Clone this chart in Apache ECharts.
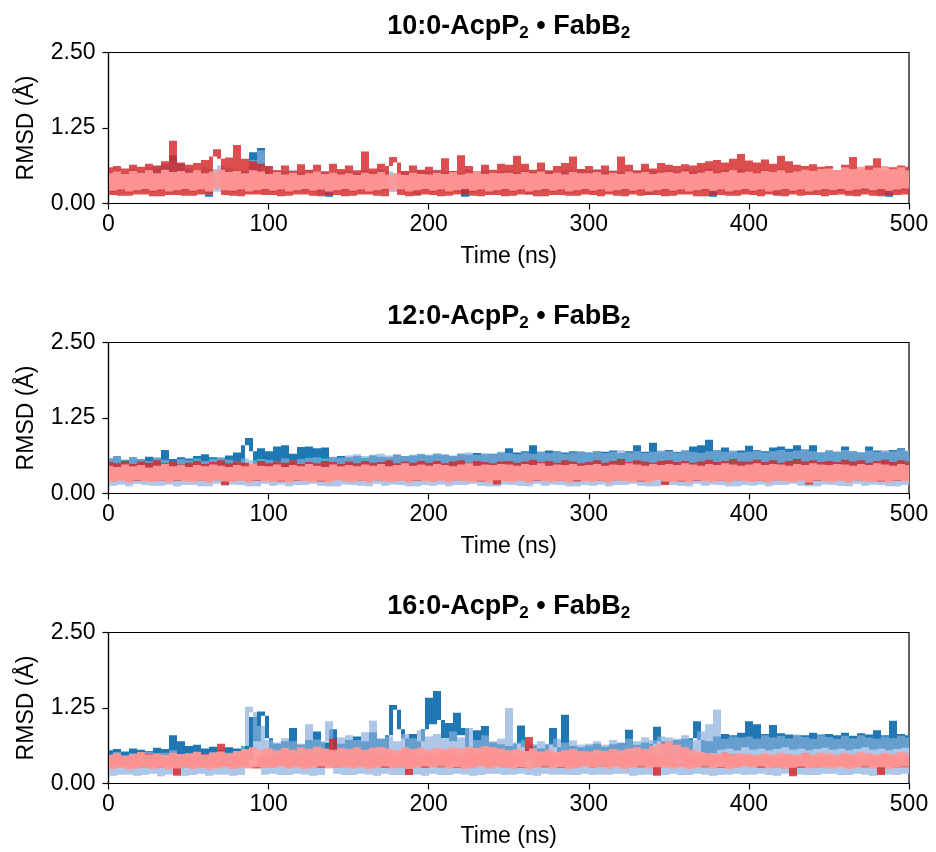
<!DOCTYPE html>
<html>
<head>
<meta charset="utf-8">
<title>RMSD of acyl chains</title>
<script src="https://cdn.jsdelivr.net/npm/echarts@6/dist/echarts.min.js"></script>
<style>
  html, body { margin: 0; padding: 0; background: #fff; }
  #chart { width: 936px; height: 852px; }
</style>
</head>
<body>
<div id="chart"></div>
<script>
// Sampling interval of every trace (ns); sample i sits at i * STEP_NS.
const STEP_NS = 2.5;

// Acyl chain length of each panel, top to bottom.
const chainLabels = ['10:0', '12:0', '16:0'];

// ---- 10:0-AcpP2•FabB2 (RMSD, Å) ----
const t10_blue = [
  .46,.28,.44,.29,.48,.27,.50,.30,.47,.28,.52,.29,.58,.27,.63,.29,.80,.28,.66,.30,
  .55,.29,.49,.27,.51,.11,.47,.28,.53,.30,.50,.29,.48,.27,.52,.28,.85,.40,.92,.60,
  .47,.28,.45,.29,.49,.27,.46,.30,.44,.28,.48,.29,.45,.27,.47,.11,.43,.29,.46,.28,
  .45,.27,.48,.29,.44,.28,.47,.30,.46,.27,.43,.29,.49,.28,.45,.27,.47,.29,.44,.28,
  .46,.29,.44,.27,.48,.28,.45,.30,.47,.11,.43,.29,.46,.27,.48,.28,.44,.29,.47,.27,
  .44,.28,.47,.29,.45,.27,.48,.30,.43,.28,.46,.29,.49,.27,.45,.28,.47,.29,.44,.30,
  .47,.27,.45,.29,.48,.28,.44,.30,.46,.27,.49,.29,.45,.28,.47,.27,.44,.29,.48,.28,
  .45,.29,.48,.27,.44,.28,.47,.30,.45,.29,.49,.11,.46,.27,.44,.28,.48,.29,.45,.27,
  .48,.28,.45,.29,.47,.27,.44,.30,.49,.28,.46,.29,.45,.27,.48,.28,.44,.29,.47,.30,
  .46,.27,.49,.29,.45,.28,.48,.30,.44,.27,.47,.29,.50,.28,.46,.11,.48,.29,.45,.27,
  .47
];
const t10_lightBlue = [
  .52,.19,.55,.21,.50,.18,.57,.20,.54,.22,.60,.19,.62,.21,.66,.18,.70,.20,.64,.22,
  .58,.19,.55,.21,.60,.14,.57,.20,.63,.22,.59,.19,.56,.21,.54,.18,.72,.20,.88,.22,
  .62,.19,.55,.21,.53,.18,.56,.20,.52,.22,.55,.19,.51,.14,.54,.18,.50,.20,.53,.22,
  .54,.19,.51,.21,.55,.18,.52,.20,.56,.22,.53,.19,.50,.21,.54,.18,.52,.14,.55,.22,
  .53,.19,.56,.21,.52,.18,.54,.20,.51,.22,.57,.19,.53,.21,.55,.18,.52,.20,.54,.22,
  .55,.19,.52,.21,.56,.14,.53,.20,.57,.22,.54,.19,.51,.21,.55,.18,.53,.20,.56,.22,
  .54,.19,.57,.21,.53,.18,.55,.20,.52,.22,.56,.19,.54,.21,.58,.14,.55,.20,.53,.22,
  .56,.19,.53,.21,.57,.18,.54,.20,.55,.22,.58,.19,.53,.21,.56,.18,.54,.20,.57,.22,
  .55,.19,.52,.21,.56,.18,.53,.14,.57,.22,.54,.19,.52,.21,.55,.18,.53,.20,.56,.22,
  .54,.19,.51,.21,.55,.18,.52,.20,.53,.22,.56,.19,.50,.14,.54,.18,.51,.20,.53,.22,
  .52
];
const t10_red = [
  .60,.14,.62,.13,.58,.13,.64,.15,.61,.15,.66,.12,.63,.12,.70,.14,1.04,.14,.68,.13,
  .64,.13,.67,.15,.72,.15,.78,.90,.74,.14,.76,.13,.97,.12,.74,.15,.70,.15,.66,.14,
  .62,.14,.55,.12,.63,.13,.54,.15,.65,.15,.56,.13,.64,.12,.53,.14,.66,.14,.57,.12,
  .63,.13,.55,.15,.86,.15,.58,.13,.66,.12,.62,.77,.68,.14,.54,.12,.63,.13,.56,.15,
  .61,.14,.55,.12,.75,.13,.54,.15,.80,.15,.62,.13,.53,.12,.64,.14,.56,.14,.66,.12,
  .64,.13,.79,.15,.66,.15,.56,.12,.68,.12,.55,.14,.62,.14,.67,.13,.78,.13,.57,.15,
  .62,.14,.56,.12,.63,.15,.54,.13,.78,.12,.64,.15,.55,.13,.66,.14,.58,.14,.67,.12,
  .64,.13,.62,.15,.65,.15,.63,.12,.67,.12,.70,.14,.72,.14,.68,.13,.74,.13,.82,.15,
  .71,.14,.68,.12,.73,.15,.66,.13,.79,.12,.70,.15,.64,.13,.62,.14,.65,.14,.61,.12,
  .62,.14,.55,.15,.64,.13,.77,.12,.56,.15,.63,.13,.75,.12,.54,.14,.60,.14,.63,.15,
  .61
];
const t10_pink = [
  .50,.21,.53,.23,.49,.20,.54,.22,.51,.24,.55,.21,.50,.23,.56,.20,.52,.22,.54,.24,
  .51,.21,.55,.23,.50,.20,.53,.24,.56,.22,.52,.21,.54,.23,.50,.20,.55,.22,.53,.24,
  .49,.21,.52,.23,.48,.20,.51,.22,.47,.24,.50,.21,.53,.23,.49,.20,.51,.22,.48,.24,
  .50,.21,.47,.23,.51,.20,.49,.22,.52,.24,.48,.21,.50,.23,.47,.20,.51,.22,.49,.24,
  .48,.21,.51,.23,.49,.20,.52,.22,.48,.24,.50,.21,.53,.23,.49,.20,.51,.22,.50,.24,
  .51,.21,.49,.23,.52,.20,.50,.22,.53,.24,.49,.21,.51,.23,.48,.20,.52,.22,.50,.24,
  .50,.21,.52,.23,.48,.20,.51,.22,.49,.24,.53,.21,.50,.23,.52,.20,.49,.22,.51,.24,
  .52,.21,.50,.23,.53,.20,.49,.22,.51,.24,.54,.21,.50,.23,.52,.20,.55,.22,.51,.24,
  .53,.21,.50,.23,.54,.20,.52,.22,.55,.24,.51,.21,.53,.23,.56,.20,.54,.22,.57,.24,
  .58,.22,.55,.24,.60,.21,.57,.23,.61,.25,.56,.22,.59,.24,.62,.21,.57,.23,.60,.25,
  .55
];

// ---- 12:0-AcpP2•FabB2 (RMSD, Å) ----
const t12_blue = [
  .58,.34,.62,.38,.56,.33,.60,.36,.57,.35,.61,.37,.59,.34,.72,.38,.57,.33,.60,.36,
  .58,.35,.62,.34,.65,.37,.60,.33,.59,.36,.63,.35,.68,.42,.80,.92,.70,.45,.75,.40,
  .70,.38,.78,.40,.80,.37,.66,.42,.77,.39,.78,.41,.75,.38,.76,.40,.60,.36,.62,.38,
  .60,.38,.62,.40,.59,.39,.63,.41,.61,.38,.60,.40,.64,.39,.62,.41,.63,.40,.65,.42,
  .63,.40,.65,.42,.64,.41,.62,.43,.66,.40,.64,.42,.67,.41,.65,.43,.66,.40,.68,.42,
  .75,.42,.68,.44,.70,.41,.80,.43,.69,.45,.71,.42,.70,.44,.68,.41,.70,.43,.69,.45,
  .68,.42,.70,.44,.69,.41,.71,.43,.67,.45,.70,.42,.80,.44,.69,.41,.84,.43,.70,.45,
  .72,.42,.69,.44,.71,.41,.78,.43,.80,.45,.89,.42,.72,.44,.76,.41,.70,.43,.71,.45,
  .79,.42,.72,.44,.70,.41,.76,.43,.78,.45,.74,.42,.80,.44,.73,.41,.80,.43,.68,.45,
  .71,.42,.69,.44,.78,.41,.70,.43,.68,.45,.78,.42,.71,.44,.69,.41,.72,.43,.75,.45,
  .70
];
const t12_lightBlue = [
  .58,.13,.62,.15,.55,.12,.60,.16,.57,.14,.54,.13,.59,.13,.56,.15,.53,.12,.57,.14,
  .55,.14,.58,.12,.54,.12,.57,.16,.60,.13,.56,.15,.53,.14,.58,.12,.55,.12,.57,.16,
  .56,.13,.54,.15,.58,.12,.55,.14,.57,.14,.59,.16,.60,.13,.58,.12,.61,.12,.59,.15,
  .63,.14,.65,.13,.62,.12,.64,.16,.66,.13,.63,.15,.65,.14,.62,.12,.64,.12,.66,.14,
  .64,.13,.67,.15,.65,.12,.63,.14,.66,.14,.68,.16,.64,.13,.67,.12,.65,.12,.69,.15,
  .67,.14,.65,.13,.68,.12,.66,.16,.69,.13,.67,.15,.69,.14,.66,.12,.68,.12,.70,.14,
  .68,.13,.70,.15,.67,.12,.69,.14,.71,.14,.68,.16,.70,.13,.67,.12,.69,.12,.71,.15,
  .70,.14,.68,.13,.71,.12,.69,.16,.67,.13,.70,.15,.72,.14,.69,.12,.71,.12,.68,.14,
  .69,.13,.71,.15,.68,.12,.70,.14,.72,.14,.69,.16,.71,.13,.73,.12,.70,.12,.68,.15,
  .71,.14,.69,.13,.72,.12,.70,.16,.68,.13,.71,.15,.69,.14,.72,.12,.70,.12,.73,.14,
  .71
];
const t12_red = [
  .52,.21,.50,.22,.54,.20,.49,.21,.53,.22,.51,.20,.55,.21,.50,.23,.53,.21,.48,.22,
  .51,.22,.54,.21,.49,.20,.52,.22,.55,.14,.50,.21,.53,.22,.51,.20,.48,.21,.54,.23,
  .50,.21,.53,.20,.51,.22,.55,.21,.49,.21,.52,.22,.50,.20,.54,.21,.52,.23,.49,.22,
  .53,.22,.50,.21,.54,.20,.51,.22,.52,.21,.55,.22,.50,.22,.53,.20,.51,.21,.54,.23,
  .51,.20,.54,.22,.50,.21,.53,.22,.55,.22,.51,.21,.54,.20,.52,.22,.50,.15,.53,.21,
  .54,.21,.51,.22,.53,.20,.56,.21,.52,.23,.54,.22,.51,.21,.55,.22,.53,.20,.50,.21,
  .52,.22,.55,.21,.51,.20,.54,.22,.57,.21,.52,.22,.55,.20,.53,.21,.51,.23,.54,.14,
  .55,.21,.52,.20,.54,.22,.51,.21,.53,.22,.56,.22,.52,.21,.54,.20,.57,.22,.53,.22,
  .53,.20,.56,.21,.52,.22,.55,.22,.51,.21,.54,.20,.57,.22,.53,.15,.55,.21,.52,.22,
  .54,.21,.52,.22,.56,.20,.53,.22,.55,.21,.51,.22,.54,.20,.56,.22,.52,.21,.55,.22,
  .53
];
const t12_pink = [
  .46,.19,.44,.21,.48,.18,.45,.22,.47,.20,.43,.19,.46,.21,.49,.18,.45,.22,.47,.20,
  .44,.19,.47,.21,.45,.18,.48,.22,.46,.20,.44,.19,.47,.21,.45,.18,.49,.22,.46,.20,
  .45,.19,.48,.21,.44,.18,.47,.22,.45,.20,.49,.19,.46,.21,.44,.18,.48,.22,.45,.20,
  .47,.19,.45,.21,.48,.18,.46,.22,.49,.20,.45,.19,.47,.21,.50,.18,.46,.22,.48,.20,
  .46,.19,.49,.21,.47,.18,.45,.22,.48,.20,.50,.19,.46,.21,.48,.18,.47,.22,.49,.20,
  .48,.19,.46,.21,.49,.18,.47,.22,.50,.20,.46,.19,.48,.21,.47,.18,.49,.22,.46,.20,
  .47,.19,.49,.21,.46,.18,.48,.22,.47,.20,.50,.19,.48,.21,.46,.18,.49,.22,.47,.20,
  .49,.19,.47,.21,.50,.18,.48,.22,.46,.20,.49,.19,.47,.21,.50,.18,.48,.22,.46,.20,
  .48,.19,.50,.21,.47,.18,.49,.22,.48,.20,.46,.19,.49,.21,.47,.18,.50,.22,.48,.20,
  .47,.19,.49,.21,.48,.18,.46,.22,.49,.20,.47,.19,.50,.21,.48,.18,.46,.22,.49,.20,
  .47
];

// ---- 16:0-AcpP2•FabB2 (RMSD, Å) ----
const t16_blue = [
  .55,.30,.57,.32,.53,.29,.58,.31,.56,.30,.54,.33,.59,.31,.57,.29,.80,.32,.70,.30,
  .62,.31,.64,.30,.58,.32,.61,.29,.56,.33,.60,.31,.58,.30,.62,.40,1.10,.70,1.19,1.12,
  .75,.45,.66,.40,.70,.42,.92,.38,.64,.41,.72,.40,.86,.39,.68,.42,.90,.40,.66,.38,
  .72,.40,.78,.38,.70,.41,.85,.39,.74,.42,.80,1.30,1.22,.90,.75,.40,.82,.41,.70,.90,
  1.42,.98,1.53,1.05,.75,1.00,.70,1.17,.80,.92,.60,.45,.88,.55,.95,.50,.68,.40,.65,.38,
  .62,.40,.66,.96,.60,.38,.63,.41,.58,.39,.64,.92,.60,.40,1.14,.42,.62,.39,.60,.41,
  .63,.40,.66,.42,.61,.39,.65,.41,.67,.40,.89,.38,.64,.42,.68,.40,.66,.94,.70,.41,
  .70,.42,.72,.44,.74,.40,.75,1.03,.72,.45,.70,.50,.78,.56,.82,.58,.80,.55,.84,.60,
  1.03,.56,.98,.58,.82,.55,.97,.57,.83,.60,.81,.56,.80,.58,.80,.55,.84,.57,.81,.59,
  .82,.56,.80,.58,.84,.55,.79,.57,.83,.60,.81,.56,.88,.58,.80,.55,1.04,.57,.82,.59,
  .80
];
const t16_lightBlue = [
  .48,.13,.52,.15,.47,.15,.50,.13,.46,.14,.53,.16,.49,.12,.51,.15,.55,.16,.48,.13,
  .50,.14,.53,.16,.49,.13,.52,.15,.55,.15,.51,.13,.54,.14,.62,1.27,1.18,.55,.95,.15,
  .72,.16,.68,.14,.75,.14,.70,.16,.66,.15,.98,.13,.73,.14,.70,1.03,.36,.16,.76,.14,
  .80,.14,.72,.16,.85,.15,1.04,.13,.74,.16,.78,.14,.70,.14,.82,.16,.75,.15,.88,.13,
  .78,.16,.82,.14,.74,.14,.86,.16,.76,.15,.92,.13,.72,.14,.80,.16,.70,.16,.74,.14,
  1.25,.15,.68,.16,.72,.14,.65,.13,.70,.16,.66,.15,.74,.15,.68,.14,.71,.14,.64,.16,
  .66,.14,.70,.15,.64,.15,.72,.16,.68,.16,.74,.13,.70,.14,.76,.15,.72,.15,.78,.14,
  .76,.16,.74,.14,.80,.14,.72,.16,.86,.15,.98,.13,1.22,.14,.74,.15,.78,.16,.76,.14,
  .78,.15,.74,.16,.80,.14,.76,.13,.79,.16,.75,.15,.81,.15,.77,.14,.74,.14,.80,.16,
  .77,.16,.74,.14,.79,.14,.75,.16,.80,.15,.76,.13,.74,.16,.78,.15,.75,.14,.79,.16,
  .76
];
const t16_red = [
  .45,.27,.48,.28,.43,.26,.47,.29,.44,.27,.49,.28,.46,.26,.42,.29,.48,.13,.45,.27,
  .47,.28,.44,.27,.49,.29,.46,.26,.66,.28,.48,.27,.45,.29,.50,.26,.30,.25,.47,.28,
  .49,.27,.46,.29,.51,.26,.48,.28,.45,.27,.50,.29,.47,.26,.52,.28,.74,.27,.46,.29,
  .50,.26,.47,.28,.52,.27,.49,.29,.46,.26,.51,.28,.48,.27,.53,.14,.50,.28,.47,.26,
  .51,.28,.48,.27,.53,.29,.50,.26,.47,.28,.52,.27,.49,.29,.54,.26,.51,.28,.48,.27,
  .50,.29,.47,.26,.52,.77,.49,.28,.46,.27,.51,.29,.48,.26,.53,.28,.50,.27,.47,.29,
  .49,.26,.46,.28,.51,.27,.48,.29,.45,.26,.50,.28,.47,.27,.52,.29,.49,.13,.46,.28,
  .48,.27,.33,.29,.50,.26,.47,.28,.44,.27,.49,.29,.46,.26,.51,.28,.48,.27,.45,.29,
  .47,.28,.44,.26,.49,.29,.46,.27,.43,.28,.48,.12,.45,.26,.50,.28,.47,.27,.44,.29,
  .46,.27,.43,.29,.48,.26,.45,.28,.42,.27,.47,.29,.44,.14,.49,.28,.46,.26,.43,.27,
  .45
];
const t16_pink = [
  .47,.24,.50,.26,.45,.23,.49,.25,.52,.27,.48,.24,.50,.26,.47,.23,.51,.25,.49,.27,
  .50,.24,.52,.26,.48,.23,.51,.25,.53,.27,.50,.24,.54,.26,.57,.25,.60,.27,.56,.26,
  .58,.26,.55,.28,.59,.25,.56,.27,.60,.24,.57,.26,.61,.28,.58,.25,.56,.27,.59,.26,
  .57,.25,.60,.27,.56,.24,.59,.26,.61,.28,.58,.25,.55,.27,.60,.24,.57,.26,.59,.28,
  .56,.26,.59,.28,.57,.25,.60,.27,.58,.24,.61,.26,.59,.28,.62,.25,.60,.27,.58,.26,
  .55,.25,.57,.27,.54,.24,.58,.26,.53,.28,.56,.25,.52,.27,.55,.24,.57,.26,.54,.28,
  .53,.26,.56,.28,.54,.25,.57,.27,.55,.24,.58,.26,.60,.28,.57,.25,.62,.27,.66,.26,
  .70,.25,.64,.27,.60,.24,.56,.26,.52,.28,.50,.25,.49,.27,.51,.24,.48,.26,.50,.28,
  .49,.26,.47,.28,.50,.25,.48,.27,.51,.24,.49,.26,.47,.28,.50,.25,.48,.27,.51,.26,
  .50,.25,.48,.27,.51,.24,.49,.26,.52,.28,.50,.25,.48,.27,.51,.24,.49,.26,.52,.28,
  .50
];

// Traces of each panel: dark blue, light blue, red, light red.
const panelTraces = [
  [t10_blue, t10_lightBlue, t10_red, t10_pink],
  [t12_blue, t12_lightBlue, t12_red, t12_pink],
  [t16_blue, t16_lightBlue, t16_red, t16_pink]
];

const FONT = '"Liberation Sans", Arial, Helvetica, sans-serif';
const COLORS = ['#1f77b4', '#aec7e8', '#d62728', '#ff9896'];
// Painting order: [trace index, fill opacity]. The light-blue trace is laid
// down once underneath and once as a translucent veil over the dark-blue one,
// so the two blues blend where their ranges overlap.
const layers = [[1, 1], [0, 1], [1, 0.5], [2, 0.82], [3, 0.94]];

const GRID_LEFT = 108.5, GRID_RIGHT = 27, GRID_H = 151;
const gridTops = [52.5, 342.5, 632.5];
const plotCenterX = GRID_LEFT + (936 - GRID_LEFT - GRID_RIGHT) / 2;

const titleRich = {
  a: { fontSize: 27, fontWeight: 'bold', color: '#000', fontFamily: FONT, lineHeight: 30 },
  s: { fontSize: 17, fontWeight: 'bold', color: '#000', fontFamily: FONT, lineHeight: 17, verticalAlign: 'bottom' }
};

// Each pair of consecutive samples covers the span between them, the way a
// densely sampled trace fills its pixel columns: [t_i, t_i+1, low, high].
function columnsOf(values) {
  const cols = [];
  for (let i = 0; i < values.length - 1; i++) {
    const a = values[i], b = values[i + 1];
    cols.push([i * STEP_NS, (i + 1) * STEP_NS, Math.min(a, b), Math.max(a, b)]);
  }
  return cols;
}

function columnRenderer(color, opacity) {
  return function (params, api) {
    const top = api.coord([api.value(0), api.value(3)]);
    const bottom = api.coord([api.value(1), api.value(2)]);
    // whole-pixel column edges so neighbouring columns meet without seams
    const x0 = Math.round(top[0]), x1 = Math.round(bottom[0]);
    return {
      type: 'rect',
      shape: { x: x0, y: top[1], width: x1 - x0, height: Math.max(bottom[1] - top[1], 1) },
      style: { fill: color, opacity: opacity }
    };
  };
}

const grids = [], xAxes = [], yAxes = [], titles = [], series = [];
gridTops.forEach((top, k) => {
  grids.push({
    left: GRID_LEFT, right: GRID_RIGHT, top: top, height: GRID_H,
    show: true, borderColor: '#000', borderWidth: 1.2, backgroundColor: 'transparent'
  });
  titles.push({
    text: '{a|' + chainLabels[k] + '-AcpP}{s|2}{a| \u2022 FabB}{s|2}',
    left: plotCenterX, top: top - 41, textAlign: 'center', padding: 0,
    textStyle: { rich: titleRich }
  });
  xAxes.push({
    gridIndex: k, type: 'value', min: 0, max: 500, interval: 100,
    name: 'Time (ns)', nameLocation: 'middle', nameGap: 42,
    nameTextStyle: { fontSize: 23, color: '#000', fontFamily: FONT },
    axisLine: { onZero: false, lineStyle: { color: '#000', width: 1.2 } },
    axisTick: { length: 6, lineStyle: { color: '#000', width: 1.2 } },
    axisLabel: { fontSize: 23, color: '#000', fontFamily: FONT, margin: 10 },
    splitLine: { show: false }
  });
  yAxes.push({
    gridIndex: k, type: 'value', min: 0, max: 2.5, interval: 1.25,
    name: 'RMSD (\u00C5)', nameLocation: 'middle', nameGap: 70, nameRotate: 90,
    nameTextStyle: { fontSize: 23, color: '#000', fontFamily: FONT },
    axisLine: { lineStyle: { color: '#000', width: 1.2 } },
    axisTick: { length: 6, lineStyle: { color: '#000', width: 1.2 } },
    axisLabel: { fontSize: 23, color: '#000', fontFamily: FONT, margin: 13,
                 formatter: v => v.toFixed(2) },
    splitLine: { show: false }
  });
  layers.forEach(([j, opacity]) => {
    series.push({
      type: 'custom', xAxisIndex: k, yAxisIndex: k,
      data: columnsOf(panelTraces[k][j]),
      encode: { x: [0, 1], y: [2, 3] },
      renderItem: columnRenderer(COLORS[j], opacity),
      silent: true, clip: true, z: 2
    });
  });
});

const chart = echarts.init(document.getElementById('chart'), null, { renderer: 'canvas' });
chart.setOption({
  animation: false,
  backgroundColor: '#fff',
  title: titles,
  grid: grids,
  xAxis: xAxes,
  yAxis: yAxes,
  series: series
});
</script>
</body>
</html>
